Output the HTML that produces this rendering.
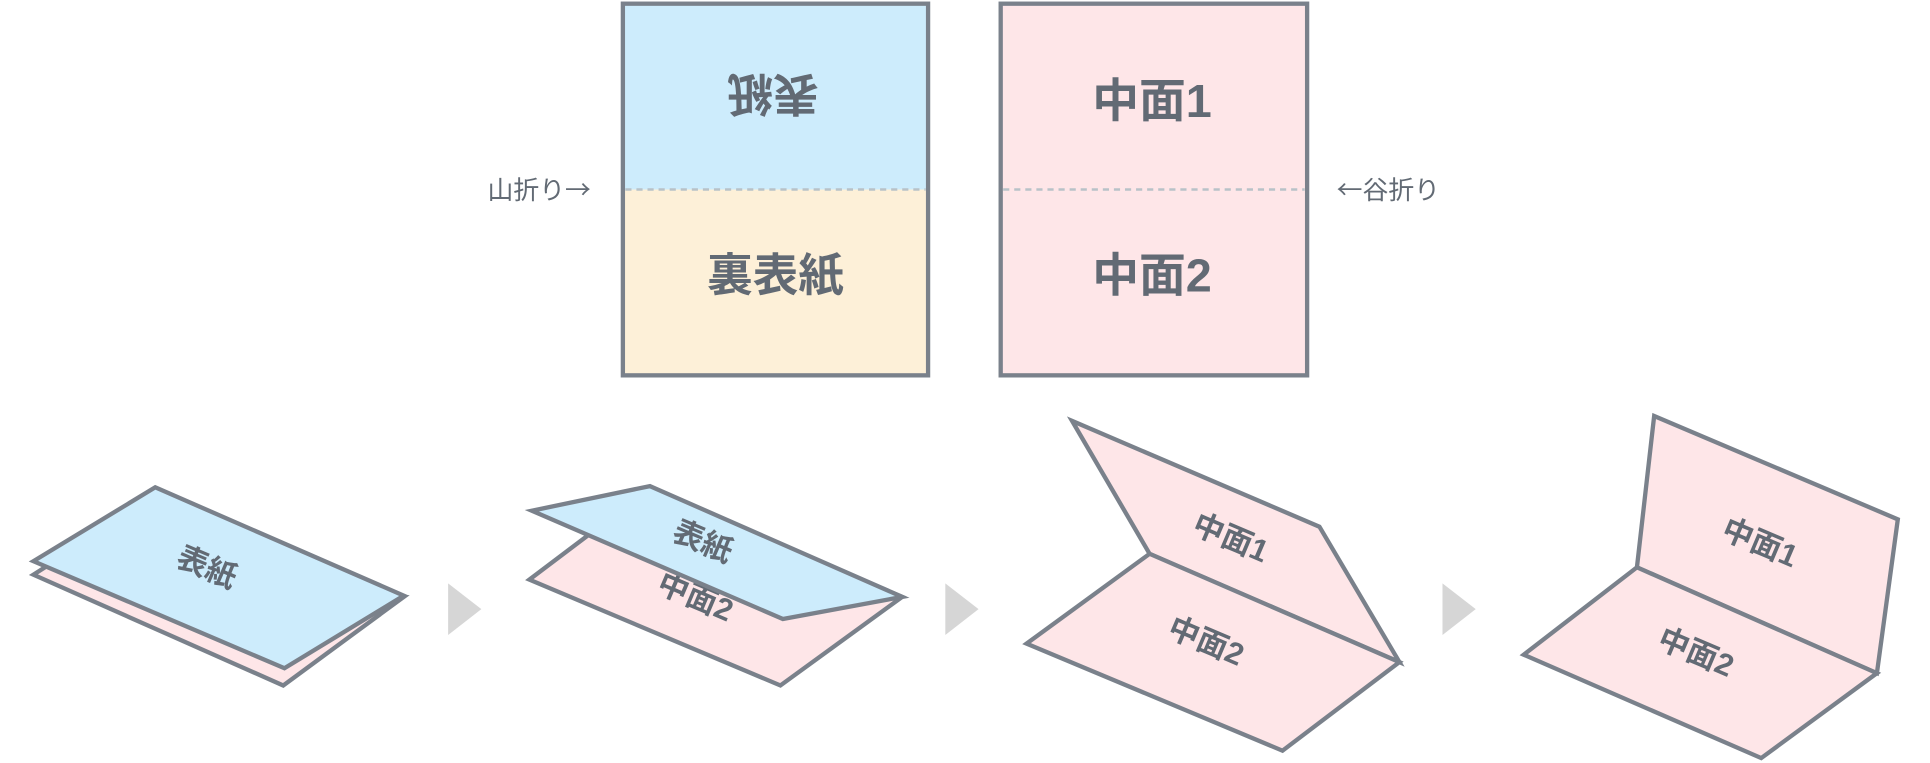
<!DOCTYPE html>
<html><head><meta charset="utf-8"><style>
html,body{margin:0;padding:0;background:#fff;}
svg{display:block}
text{font-family:"Liberation Sans","Noto Sans CJK JP",sans-serif;font-weight:bold;fill:#626a74;text-anchor:middle;dominant-baseline:central}
.lbl{font-family:"Noto Sans CJK JP",sans-serif;font-weight:normal}
</style></head><body>
<svg width="1930" height="763" viewBox="0 0 1568 620" xmlns="http://www.w3.org/2000/svg">
<g stroke="#7a818b" stroke-width="3.5" stroke-linejoin="miter">
<rect x="506" y="3" width="248" height="151" fill="#cdecfc" stroke="none"/>
<rect x="506" y="154" width="248" height="151" fill="#fdf0d8" stroke="none"/>
<rect x="506" y="3" width="248" height="302" fill="none"/>
<rect x="813" y="3" width="249" height="302" fill="#fee6e8"/>
</g>
<line x1="508" y1="154" x2="752" y2="154" stroke="#b8c2c8" stroke-width="2" stroke-dasharray="5,4"/>
<line x1="815" y1="154" x2="1060" y2="154" stroke="#b8c2c8" stroke-width="2" stroke-dasharray="5,4"/>
<text x="628" y="76" font-size="37" transform="rotate(180 628 76)">表紙</text>
<text x="630" y="224" font-size="37">裏表紙</text>
<text x="936" y="82" font-size="38">中面1</text>
<text x="936" y="224" font-size="38">中面2</text>
<text class="lbl" x="438" y="153" font-size="21">山折り→</text>
<text class="lbl" x="1128" y="153" font-size="21">←谷折り</text>
<g fill="#d6d6d6">
<polygon points="364,474 391,495 364,516"/>
<polygon points="768,474 795,495 768,516"/>
<polygon points="1172,474 1199,495 1172,516"/>
</g>
<g stroke="#7a818b" stroke-width="3.5" stroke-linejoin="miter" fill="#fee6e8">
<polygon points="27,467 38,460 328,485 230,557"/>
<polygon points="27,456 126,396 328,484 231,543" fill="#cdecfc"/>
<polygon points="430,471 528,397 733,485 634,557"/>
</g>
<text x="565" y="485" font-size="25" transform="rotate(23 565 485)">中面2</text>
<polygon points="432,415 528,395 733,485 636,503" fill="#cdecfc" stroke="#7a818b" stroke-width="3.5"/>
<text x="168" y="461" font-size="25" transform="rotate(23 168 461)">表紙</text>
<text x="571" y="440" font-size="25" transform="rotate(23 571 440)">表紙</text>
<g stroke="#7a818b" stroke-width="3.5" stroke-linejoin="miter" fill="#fee6e8">
<polygon points="871,342 1072,428 1137,538 934,450"/>
<polygon points="834,523 934,450 1137,538 1042,610"/>
<polygon points="1344,338 1542,422 1525,547 1330,461"/>
<polygon points="1238,532 1330,461 1525,547 1431,616"/>
</g>
<text x="1000" y="437" font-size="25" transform="rotate(23 1000 437)">中面1</text>
<text x="980" y="521" font-size="25" transform="rotate(23 980 521)">中面2</text>
<text x="1430" y="441" font-size="25" transform="rotate(23 1430 441)">中面1</text>
<text x="1378" y="530" font-size="25" transform="rotate(23 1378 530)">中面2</text>
</svg>
</body></html>
